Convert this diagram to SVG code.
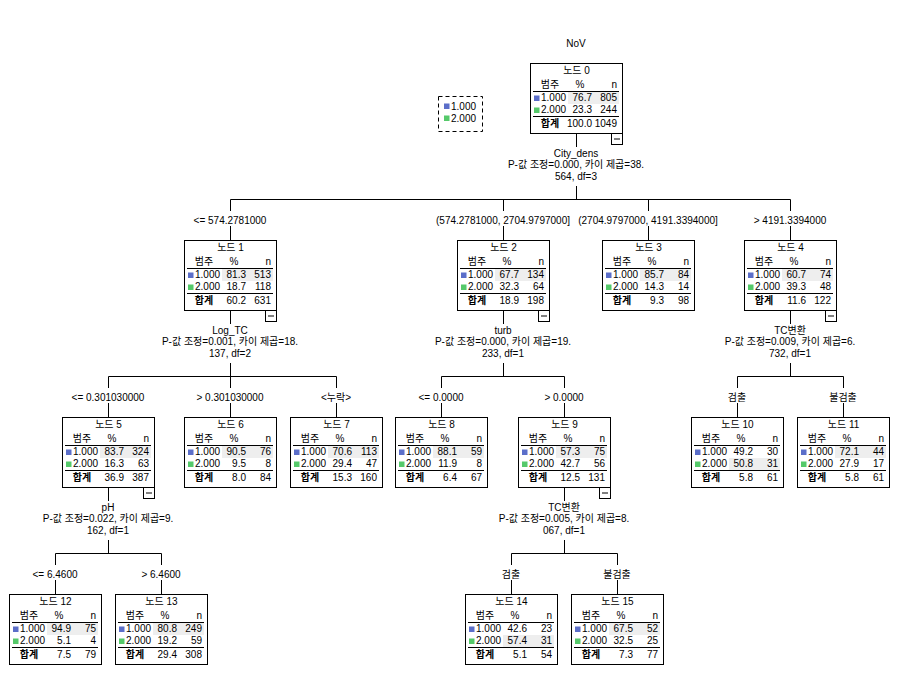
<svg xmlns="http://www.w3.org/2000/svg" width="898" height="698" viewBox="0 0 898 698">
<style>
text{font-family:"Liberation Sans","Noto Sans CJK KR",sans-serif;font-size:10px;fill:#000}
.c{text-anchor:middle}
.r{text-anchor:end}
.bd{font-weight:bold}
.box{fill:#fff;stroke:#000;stroke-width:1}
.hl{fill:#eeeeee}
.ln{stroke:#000;stroke-width:1;fill:none}
.b1{fill:#5b6ec9}
.b2{fill:#55c96a}
.mb{fill:#fff;stroke:#000;stroke-width:1}
</style>
<defs>
<g id="frame">
<rect class="box" x="0.5" y="0.5" width="92" height="70"/>
</g>
<g id="hdr">
<text x="20" y="24.5" class="c">범주</text>
<text x="50" y="24.5" class="c">%</text>
<text x="87" y="24.5" class="r">n</text>
<line class="ln" x1="3" x2="89" y1="28.5" y2="28.5"/>
<rect class="b1" x="4" y="32.5" width="5.5" height="5.5"/>
<text x="11" y="38">1.000</text>
<rect class="b2" x="4" y="44.5" width="5.5" height="5.5"/>
<text x="11" y="50">2.000</text>
<line class="ln" x1="3" x2="89" y1="53.5" y2="53.5"/>
<text x="20" y="64" class="c bd">합계</text>
</g>
<g id="minus">
<rect class="mb" x="81.5" y="70.5" width="11" height="11"/>
<line class="ln" x1="84" x2="90" y1="76" y2="76"/>
</g>
</defs>
<rect width="898" height="698" fill="#fff"/>
<text x="576" y="47" class="c">NoV</text>
<g id="legend">
<rect x="438.5" y="96.5" width="44" height="35" fill="#fff" stroke="#000" stroke-dasharray="4,3"/>
<rect class="b1" x="444" y="103.5" width="5.5" height="5.5"/>
<text x="451" y="110">1.000</text>
<rect class="b2" x="444" y="115.5" width="5.5" height="5.5"/>
<text x="451" y="122">2.000</text>
</g>
<g id="connectors">
<path class="ln" d="M576.5 133V147M576.5 186V199.5M230.5 199.5H790.5M230.5 199.5V211M503.5 199.5V211M648.5 199.5V211M790.5 199.5V211M230.5 226V240M503.5 226V240M648.5 226V240M790.5 226V240"/>
<path class="ln" d="M230.5 310V324M230.5 363V376.5M108.5 376.5H336.5M108.5 376.5V388M230.5 376.5V388M336.5 376.5V388M108.5 403V417M230.5 403V417M336.5 403V417"/>
<path class="ln" d="M503.5 310V324M503.5 363V376.5M441.5 376.5H564.5M441.5 376.5V388M564.5 376.5V388M441.5 403V417M564.5 403V417"/>
<path class="ln" d="M790.5 310V324M790.5 363V376.5M737.5 376.5H843.5M737.5 376.5V388M843.5 376.5V388M737.5 403V417M843.5 403V417"/>
<path class="ln" d="M108.5 487V501M108.5 540V553.5M55.5 553.5H161.5M55.5 553.5V565M161.5 553.5V565M55.5 580V594M161.5 580V594"/>
<path class="ln" d="M564.5 487V501M564.5 540V553.5M511.5 553.5H617.5M511.5 553.5V565M617.5 553.5V565M511.5 580V594M617.5 580V594"/>
<text x="576" y="157" class="c">City_dens</text>
<text x="576" y="168" class="c">P-값 조정=0.000, 카이 제곱=38.</text>
<text x="576" y="179.5" class="c">564, df=3</text>
<text x="230" y="334" class="c">Log_TC</text>
<text x="230" y="345" class="c">P-값 조정=0.001, 카이 제곱=18.</text>
<text x="230" y="356.5" class="c">137, df=2</text>
<text x="503" y="334" class="c">turb</text>
<text x="503" y="345" class="c">P-값 조정=0.000, 카이 제곱=19.</text>
<text x="503" y="356.5" class="c">233, df=1</text>
<text x="790" y="334" class="c">TC변환</text>
<text x="790" y="345" class="c">P-값 조정=0.009, 카이 제곱=6.</text>
<text x="790" y="356.5" class="c">732, df=1</text>
<text x="108" y="511" class="c">pH</text>
<text x="108" y="522" class="c">P-값 조정=0.022, 카이 제곱=9.</text>
<text x="108" y="533.5" class="c">162, df=1</text>
<text x="564" y="511" class="c">TC변환</text>
<text x="564" y="522" class="c">P-값 조정=0.005, 카이 제곱=8.</text>
<text x="564" y="533.5" class="c">067, df=1</text>
<text x="230" y="223.5" class="c">&lt;= 574.2781000</text>
<text x="503" y="223.5" class="c">(574.2781000, 2704.9797000]</text>
<text x="648" y="223.5" class="c">(2704.9797000, 4191.3394000]</text>
<text x="790" y="223.5" class="c">&gt; 4191.3394000</text>
<text x="108" y="400.5" class="c">&lt;= 0.301030000</text>
<text x="230" y="400.5" class="c">&gt; 0.301030000</text>
<text x="336" y="400.5" class="c">&lt;누락&gt;</text>
<text x="441" y="400.5" class="c">&lt;= 0.0000</text>
<text x="564" y="400.5" class="c">&gt; 0.0000</text>
<text x="737" y="400.5" class="c">검출</text>
<text x="843" y="400.5" class="c">불검출</text>
<text x="55" y="577.5" class="c">&lt;= 6.4600</text>
<text x="161" y="577.5" class="c">&gt; 6.4600</text>
<text x="511" y="577.5" class="c">검출</text>
<text x="617" y="577.5" class="c">불검출</text>
</g>
<g id="node0" transform="translate(530,63)">
<use href="#frame"/><rect class="hl" x="38" y="29" width="51" height="12"/><use href="#hdr"/><use href="#minus"/>
<text x="46.5" y="10.5" class="c">노드 0</text>
<text x="62" y="38" class="r">76.7</text><text x="87" y="38" class="r">805</text>
<text x="62" y="50" class="r">23.3</text><text x="87" y="50" class="r">244</text>
<text x="62" y="64" class="r">100.0</text><text x="87" y="64" class="r">1049</text>
</g>
<g id="node1" transform="translate(184,240)">
<use href="#frame"/><rect class="hl" x="38" y="29" width="51" height="12"/><use href="#hdr"/><use href="#minus"/>
<text x="46.5" y="10.5" class="c">노드 1</text>
<text x="62" y="38" class="r">81.3</text><text x="87" y="38" class="r">513</text>
<text x="62" y="50" class="r">18.7</text><text x="87" y="50" class="r">118</text>
<text x="62" y="64" class="r">60.2</text><text x="87" y="64" class="r">631</text>
</g>
<g id="node2" transform="translate(457,240)">
<use href="#frame"/><rect class="hl" x="38" y="29" width="51" height="12"/><use href="#hdr"/><use href="#minus"/>
<text x="46.5" y="10.5" class="c">노드 2</text>
<text x="62" y="38" class="r">67.7</text><text x="87" y="38" class="r">134</text>
<text x="62" y="50" class="r">32.3</text><text x="87" y="50" class="r">64</text>
<text x="62" y="64" class="r">18.9</text><text x="87" y="64" class="r">198</text>
</g>
<g id="node3" transform="translate(602,240)">
<use href="#frame"/><rect class="hl" x="38" y="29" width="51" height="12"/><use href="#hdr"/>
<text x="46.5" y="10.5" class="c">노드 3</text>
<text x="62" y="38" class="r">85.7</text><text x="87" y="38" class="r">84</text>
<text x="62" y="50" class="r">14.3</text><text x="87" y="50" class="r">14</text>
<text x="62" y="64" class="r">9.3</text><text x="87" y="64" class="r">98</text>
</g>
<g id="node4" transform="translate(744,240)">
<use href="#frame"/><rect class="hl" x="38" y="29" width="51" height="12"/><use href="#hdr"/><use href="#minus"/>
<text x="46.5" y="10.5" class="c">노드 4</text>
<text x="62" y="38" class="r">60.7</text><text x="87" y="38" class="r">74</text>
<text x="62" y="50" class="r">39.3</text><text x="87" y="50" class="r">48</text>
<text x="62" y="64" class="r">11.6</text><text x="87" y="64" class="r">122</text>
</g>
<g id="node5" transform="translate(62,417)">
<use href="#frame"/><rect class="hl" x="38" y="29" width="51" height="12"/><use href="#hdr"/><use href="#minus"/>
<text x="46.5" y="10.5" class="c">노드 5</text>
<text x="62" y="38" class="r">83.7</text><text x="87" y="38" class="r">324</text>
<text x="62" y="50" class="r">16.3</text><text x="87" y="50" class="r">63</text>
<text x="62" y="64" class="r">36.9</text><text x="87" y="64" class="r">387</text>
</g>
<g id="node6" transform="translate(184,417)">
<use href="#frame"/><rect class="hl" x="38" y="29" width="51" height="12"/><use href="#hdr"/>
<text x="46.5" y="10.5" class="c">노드 6</text>
<text x="62" y="38" class="r">90.5</text><text x="87" y="38" class="r">76</text>
<text x="62" y="50" class="r">9.5</text><text x="87" y="50" class="r">8</text>
<text x="62" y="64" class="r">8.0</text><text x="87" y="64" class="r">84</text>
</g>
<g id="node7" transform="translate(290,417)">
<use href="#frame"/><rect class="hl" x="38" y="29" width="51" height="12"/><use href="#hdr"/>
<text x="46.5" y="10.5" class="c">노드 7</text>
<text x="62" y="38" class="r">70.6</text><text x="87" y="38" class="r">113</text>
<text x="62" y="50" class="r">29.4</text><text x="87" y="50" class="r">47</text>
<text x="62" y="64" class="r">15.3</text><text x="87" y="64" class="r">160</text>
</g>
<g id="node8" transform="translate(395,417)">
<use href="#frame"/><rect class="hl" x="38" y="29" width="51" height="12"/><use href="#hdr"/>
<text x="46.5" y="10.5" class="c">노드 8</text>
<text x="62" y="38" class="r">88.1</text><text x="87" y="38" class="r">59</text>
<text x="62" y="50" class="r">11.9</text><text x="87" y="50" class="r">8</text>
<text x="62" y="64" class="r">6.4</text><text x="87" y="64" class="r">67</text>
</g>
<g id="node9" transform="translate(518,417)">
<use href="#frame"/><rect class="hl" x="38" y="29" width="51" height="12"/><use href="#hdr"/><use href="#minus"/>
<text x="46.5" y="10.5" class="c">노드 9</text>
<text x="62" y="38" class="r">57.3</text><text x="87" y="38" class="r">75</text>
<text x="62" y="50" class="r">42.7</text><text x="87" y="50" class="r">56</text>
<text x="62" y="64" class="r">12.5</text><text x="87" y="64" class="r">131</text>
</g>
<g id="node10" transform="translate(691,417)">
<use href="#frame"/><rect class="hl" x="38" y="41" width="51" height="12"/><use href="#hdr"/>
<text x="46.5" y="10.5" class="c">노드 10</text>
<text x="62" y="38" class="r">49.2</text><text x="87" y="38" class="r">30</text>
<text x="62" y="50" class="r">50.8</text><text x="87" y="50" class="r">31</text>
<text x="62" y="64" class="r">5.8</text><text x="87" y="64" class="r">61</text>
</g>
<g id="node11" transform="translate(797,417)">
<use href="#frame"/><rect class="hl" x="38" y="29" width="51" height="12"/><use href="#hdr"/>
<text x="46.5" y="10.5" class="c">노드 11</text>
<text x="62" y="38" class="r">72.1</text><text x="87" y="38" class="r">44</text>
<text x="62" y="50" class="r">27.9</text><text x="87" y="50" class="r">17</text>
<text x="62" y="64" class="r">5.8</text><text x="87" y="64" class="r">61</text>
</g>
<g id="node12" transform="translate(9,594)">
<use href="#frame"/><rect class="hl" x="38" y="29" width="51" height="12"/><use href="#hdr"/>
<text x="46.5" y="10.5" class="c">노드 12</text>
<text x="62" y="38" class="r">94.9</text><text x="87" y="38" class="r">75</text>
<text x="62" y="50" class="r">5.1</text><text x="87" y="50" class="r">4</text>
<text x="62" y="64" class="r">7.5</text><text x="87" y="64" class="r">79</text>
</g>
<g id="node13" transform="translate(115,594)">
<use href="#frame"/><rect class="hl" x="38" y="29" width="51" height="12"/><use href="#hdr"/>
<text x="46.5" y="10.5" class="c">노드 13</text>
<text x="62" y="38" class="r">80.8</text><text x="87" y="38" class="r">249</text>
<text x="62" y="50" class="r">19.2</text><text x="87" y="50" class="r">59</text>
<text x="62" y="64" class="r">29.4</text><text x="87" y="64" class="r">308</text>
</g>
<g id="node14" transform="translate(465,594)">
<use href="#frame"/><rect class="hl" x="38" y="41" width="51" height="12"/><use href="#hdr"/>
<text x="46.5" y="10.5" class="c">노드 14</text>
<text x="62" y="38" class="r">42.6</text><text x="87" y="38" class="r">23</text>
<text x="62" y="50" class="r">57.4</text><text x="87" y="50" class="r">31</text>
<text x="62" y="64" class="r">5.1</text><text x="87" y="64" class="r">54</text>
</g>
<g id="node15" transform="translate(571,594)">
<use href="#frame"/><rect class="hl" x="38" y="29" width="51" height="12"/><use href="#hdr"/>
<text x="46.5" y="10.5" class="c">노드 15</text>
<text x="62" y="38" class="r">67.5</text><text x="87" y="38" class="r">52</text>
<text x="62" y="50" class="r">32.5</text><text x="87" y="50" class="r">25</text>
<text x="62" y="64" class="r">7.3</text><text x="87" y="64" class="r">77</text>
</g>
</svg>
